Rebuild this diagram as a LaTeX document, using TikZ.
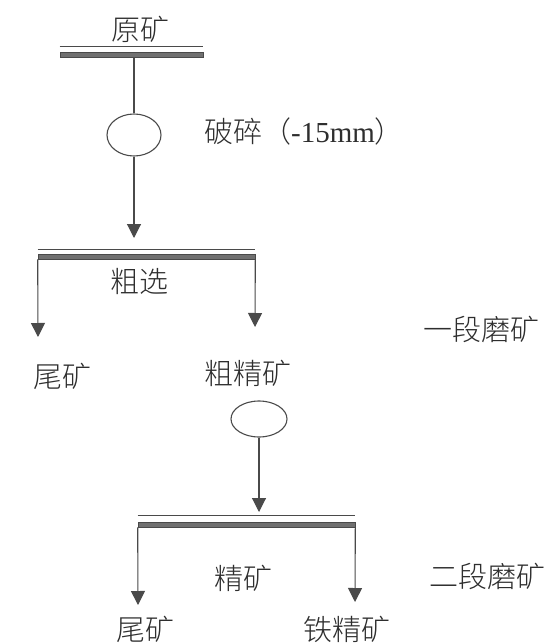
\documentclass[tikz,border=0pt]{standalone}
\usepackage{fontspec}
\setmainfont{Liberation Serif}
\newfontfamily\cjk{Noto Sans CJK SC Light}
\usetikzlibrary{arrows.meta,shapes.geometric}
\definecolor{lnc}{HTML}{4A4A4A}
\definecolor{barc}{HTML}{707070}
\definecolor{txtc}{HTML}{2E2E2E}
\begin{document}
\begin{tikzpicture}[x=1pt,y=-1pt,
  lbl/.style={font=\cjk\fontsize{29}{29}\selectfont, text=txtc, inner sep=0pt},
  mixlbl/.style={font=\fontsize{29}{29}\selectfont, text=txtc, inner sep=0pt},
  barbox/.style={fill=barc, draw=lnc, line width=0.6pt, minimum height=5pt, inner sep=0pt},
  thinbar/.style={draw=lnc, line width=1pt},
  wire/.style={draw=lnc, line width=1.1pt},
  arr/.style={wire, -{Triangle[width=14pt,length=14pt,fill=lnc]}},
  mill/.style={ellipse, draw=lnc, line width=1.1pt, inner sep=0pt}
]
\useasboundingbox (0,0) rectangle (552,644);
\fill[white] (0,0) rectangle (552,644);

% stage 0
\node[lbl] (yk) at (140,29) {原矿};
\node[barbox, minimum width=143pt] (b1) at (131.5,54.5) {};
\draw[thinbar] ([yshift=5pt]b1.north west) -- ([yshift=5pt]b1.north east);
\node[mill, minimum width=54pt, minimum height=42pt] (e1) at (134,135) {};
\node[mixlbl] (ps) at (304,131) {{\cjk 破碎（}-15mm{\cjk ）}};
\draw[wire] (e1.north) -- (e1.north |- b1.south);

% stage 1
\node[barbox, minimum width=217pt] (b2) at (146.5,256.5) {};
\draw[thinbar] ([yshift=4pt]b2.north west) -- ([yshift=4pt]b2.north east);
\coordinate (c1) at (134,238);
\draw[arr] (e1.south) -- (c1);
\node[lbl] (cx) at (139,281) {粗选};
\node[lbl] (ydmk) at (481,329) {一段磨矿};
\node[lbl] (wk1) at (62,376) {尾矿};
\node[lbl] (cjk) at (248,373) {粗精矿};
\coordinate (c2) at (38,337);
\coordinate (c3) at (255,327);
\draw[arr] (b2.south west) -- (c2);
\draw[arr] (b2.south east) -- (c3);

% stage 2
\node[mill, minimum width=56pt, minimum height=36pt] (e2) at (259,419) {};
\node[barbox, minimum width=217pt] (b3) at (246.5,524.5) {};
\draw[thinbar] ([yshift=6pt]b3.north west) -- ([yshift=6pt]b3.north east);
\coordinate (c4) at (259,512);
\draw[arr] (e2.south) -- (c4);
\node[lbl] (jk) at (243,578) {精矿};
\node[lbl] (edmk) at (487,576) {二段磨矿};
\node[lbl] (wk2) at (145,629) {尾矿};
\node[lbl] (tjk) at (347,629) {铁精矿};
\coordinate (c5) at (138,605);
\coordinate (c6) at (355,602);
\draw[arr] (b3.south west) -- (c5);
\draw[arr] (b3.south east) -- (c6);
\end{tikzpicture}
\end{document}
